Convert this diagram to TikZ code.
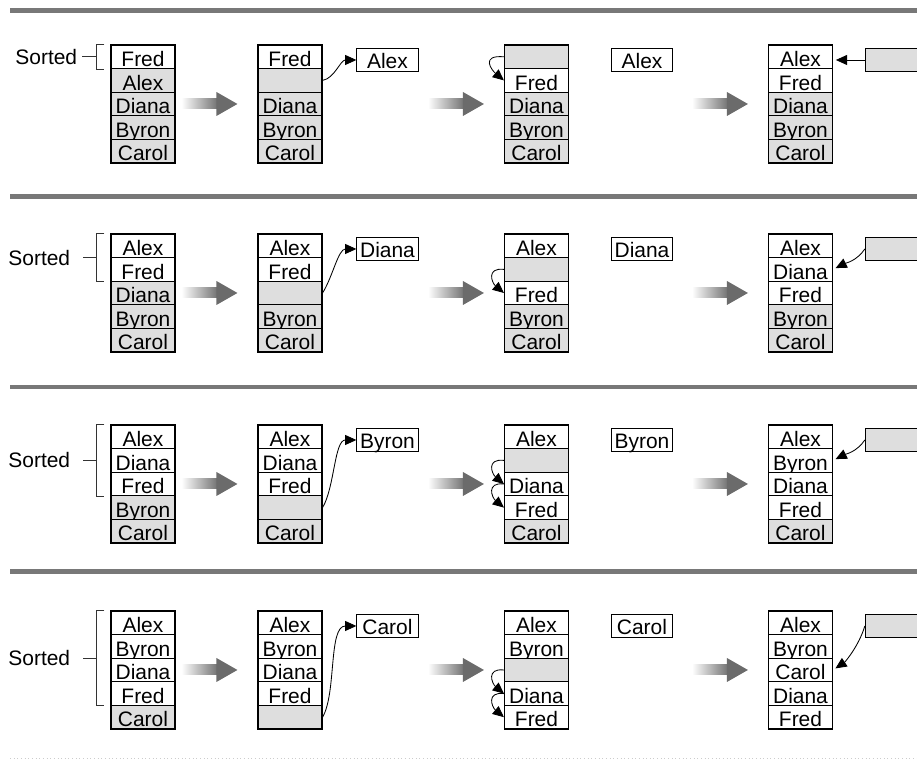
\documentclass[tikz,border=0pt]{standalone}
\usepackage{fontspec}
\setmainfont{Liberation Sans}
\usepackage{tikz}
\usetikzlibrary{arrows.meta, calc}
\newcommand{\namesize}{\fontsize{14.9pt}{17pt}\selectfont}
\tikzset{
    cell/.style={rectangle, draw=black, line width=0.8pt, minimum width=1.6cm,
        minimum height=0.59cm, inner sep=0pt, text height=13.8pt, text depth=0pt,
        font=\namesize},
    done/.style={cell, fill=white},
    todo/.style={cell, fill=black!13},
    keybox/.style={rectangle, draw=black, line width=0.8pt, fill=white, minimum width=1.53cm,
        minimum height=0.58cm, inner sep=0pt, text height=12pt, text depth=0pt,
        font=\namesize},
    slotbox/.style={keybox, fill=black!13},
    sortlabel/.style={font=\namesize, inner sep=0pt, anchor=east},
    bracket/.style={line width=0.7pt, black!80},
    movearrow/.style={-{Triangle[length=2.8mm, width=2.5mm]}, line width=0.6pt},
    sepbar/.style={line width=1.12mm, black!53},
}
% one column of five cells: name, x, top, list of text/kind
\newcommand{\cellstack}[4]{%
    \foreach \txt/\kind [count=\i] in {#4}
        \node[\kind] (#1-\i) at (#2, {#3-11.8-23.6*(\i-1)}) {\txt};
}
% bracket over the sorted part: row, last sorted cell, label shift, gap
\newcommand{\sortbracket}[4]{%
    \coordinate (#1top) at ($(#1a-1.north west)+(-6,0)$);
    \coordinate (#1bot) at ($(#1a-#2.south west)+(-6,0)$);
    \coordinate (#1mid) at ($(#1top)!0.5!(#1bot)+(-8,0)$);
    \draw[bracket] (#1top) -- ++(-8,0) |- (#1bot);
    \node[sortlabel] (#1lab) at ($(#1mid)+(#3,0)$) {Sorted};
    \draw[bracket] ($(#1lab.east)+(#4,0)$) -- (#1mid);
}
% big grey step arrow ending in front of a stack
\newcommand{\bigarrow}[1]{%
    \shade[left color=white, right color=black!55]
        ($(#1.west)+(-76,-5)$) rectangle ($(#1.west)+(-40,5)$);
    \fill[black!58] ($(#1.west)+(-41,-12)$) -- ($(#1.west)+(-20,0)$)
        -- ($(#1.west)+(-41,12)$) -- cycle;
}

\begin{document}
\begin{tikzpicture}[x=0.025cm, y=0.025cm]
    \useasboundingbox (0,0) rectangle (917,761);
    \clip (0,0) rectangle (917,761);

    % separators
    \draw[sepbar] (10,750.5) -- (930,750.5);
    \draw[sepbar] (10,564.5) -- (930,564.5);
    \draw[sepbar] (10,374) -- (930,374);
    \draw[sepbar] (10,189.5) -- (930,189.5);
    \draw[black!20, dotted, line width=0.6pt] (10,3) -- (930,3);

    % row 1: Alex
    \cellstack{r1a}{143}{716}{Fred/done, Alex/todo, Diana/todo, Byron/todo, Carol/todo}
    \cellstack{r1b}{290}{716}{Fred/done, {}/todo, Diana/todo, Byron/todo, Carol/todo}
    \cellstack{r1c}{536.5}{716}{{}/todo, Fred/done, Diana/todo, Byron/todo, Carol/todo}
    \cellstack{r1d}{800.5}{716}{Alex/done, Fred/done, Diana/todo, Byron/todo, Carol/todo}
    \node[keybox] (r1k) at (387.5,701) {Alex};
    \node[keybox] (r1h) at (642,701) {Alex};
    \node[slotbox] (r1s) at (896,701) {};
    \sortbracket{r1}{1}{-19}{5}
    \bigarrow{r1b-3}
    \bigarrow{r1c-3}
    \bigarrow{r1d-3}
    \draw[movearrow] (r1b-2.east) .. controls +(12,2) and +(-16,0) .. (r1k.west);
    \draw[movearrow] (r1c-1.west) .. controls +(-24,2) and +(-12,10) .. (r1c-2.west);
    \draw[movearrow, shorten >=2pt] (r1s.west) -- (r1s.west -| r1d-1.east);

    % row 2: Diana
    \cellstack{r2a}{143}{527}{Alex/done, Fred/done, Diana/todo, Byron/todo, Carol/todo}
    \cellstack{r2b}{290}{527}{Alex/done, Fred/done, {}/todo, Byron/todo, Carol/todo}
    \cellstack{r2c}{536.5}{527}{Alex/done, {}/todo, Fred/done, Byron/todo, Carol/todo}
    \cellstack{r2d}{800.5}{527}{Alex/done, Diana/done, Fred/done, Byron/todo, Carol/todo}
    \node[keybox] (r2k) at (387.5,512) {Diana};
    \node[keybox] (r2h) at (642,512) {Diana};
    \node[slotbox] (r2s) at (896,512) {};
    \sortbracket{r2}{2}{-26}{13}
    \bigarrow{r2b-3}
    \bigarrow{r2c-3}
    \bigarrow{r2d-3}
    \draw[movearrow] (r2b-3.east) .. controls +(10,16) and +(-18,0) .. (r2k.west);
    \draw[movearrow] (r2c-2.west) .. controls +(-18,2) and +(-12,10) .. (r2c-3.west);
    \draw[movearrow, shorten >=2pt] (r2s.west) .. controls +(-8,-12) and +(12,6) .. (r2d-2.east);

    % row 3: Byron
    \cellstack{r3a}{143}{336}{Alex/done, Diana/done, Fred/done, Byron/todo, Carol/todo}
    \cellstack{r3b}{290}{336}{Alex/done, Diana/done, Fred/done, {}/todo, Carol/todo}
    \cellstack{r3c}{536.5}{336}{Alex/done, {}/todo, Diana/done, Fred/done, Carol/todo}
    \cellstack{r3d}{800.5}{336}{Alex/done, Byron/done, Diana/done, Fred/done, Carol/todo}
    \node[keybox] (r3k) at (387.5,321) {Byron};
    \node[keybox] (r3h) at (642,321) {Byron};
    \node[slotbox] (r3s) at (896,321) {};
    \sortbracket{r3}{3}{-26}{13}
    \bigarrow{r3b-3}
    \bigarrow{r3c-3}
    \bigarrow{r3d-3}
    \draw[movearrow] (r3b-4.east) .. controls +(12,20) and +(-22,0) .. (r3k.west);
    \draw[movearrow] (r3c-2.west) .. controls +(-18,2) and +(-12,10) .. (r3c-3.west);
    \draw[movearrow] (r3c-3.west) .. controls +(-18,2) and +(-12,10) .. (r3c-4.west);
    \draw[movearrow, shorten >=2pt] (r3s.west) .. controls +(-8,-12) and +(12,6) .. (r3d-2.east);

    % row 4: Carol
    \cellstack{r4a}{143}{150}{Alex/done, Byron/done, Diana/done, Fred/done, Carol/todo}
    \cellstack{r4b}{290}{150}{Alex/done, Byron/done, Diana/done, Fred/done, {}/todo}
    \cellstack{r4c}{536.5}{150}{Alex/done, Byron/done, {}/todo, Diana/done, Fred/done}
    \cellstack{r4d}{800.5}{150}{Alex/done, Byron/done, Carol/done, Diana/done, Fred/done}
    \node[keybox] (r4k) at (387.5,135) {Carol};
    \node[keybox] (r4h) at (642,135) {Carol};
    \node[slotbox] (r4s) at (896,135) {};
    \sortbracket{r4}{4}{-26}{13}
    \bigarrow{r4b-3}
    \bigarrow{r4c-3}
    \bigarrow{r4d-3}
    \draw[movearrow] (r4b-5.east) .. controls +(14,24) and +(-28,0) .. (r4k.west);
    \draw[movearrow] (r4c-3.west) .. controls +(-18,2) and +(-12,10) .. (r4c-4.west);
    \draw[movearrow] (r4c-4.west) .. controls +(-18,2) and +(-12,10) .. (r4c-5.west);
    \draw[movearrow, shorten >=2pt] (r4s.west) .. controls +(-6,-20) and +(12,8) .. (r4d-3.east);
\end{tikzpicture}
\end{document}
